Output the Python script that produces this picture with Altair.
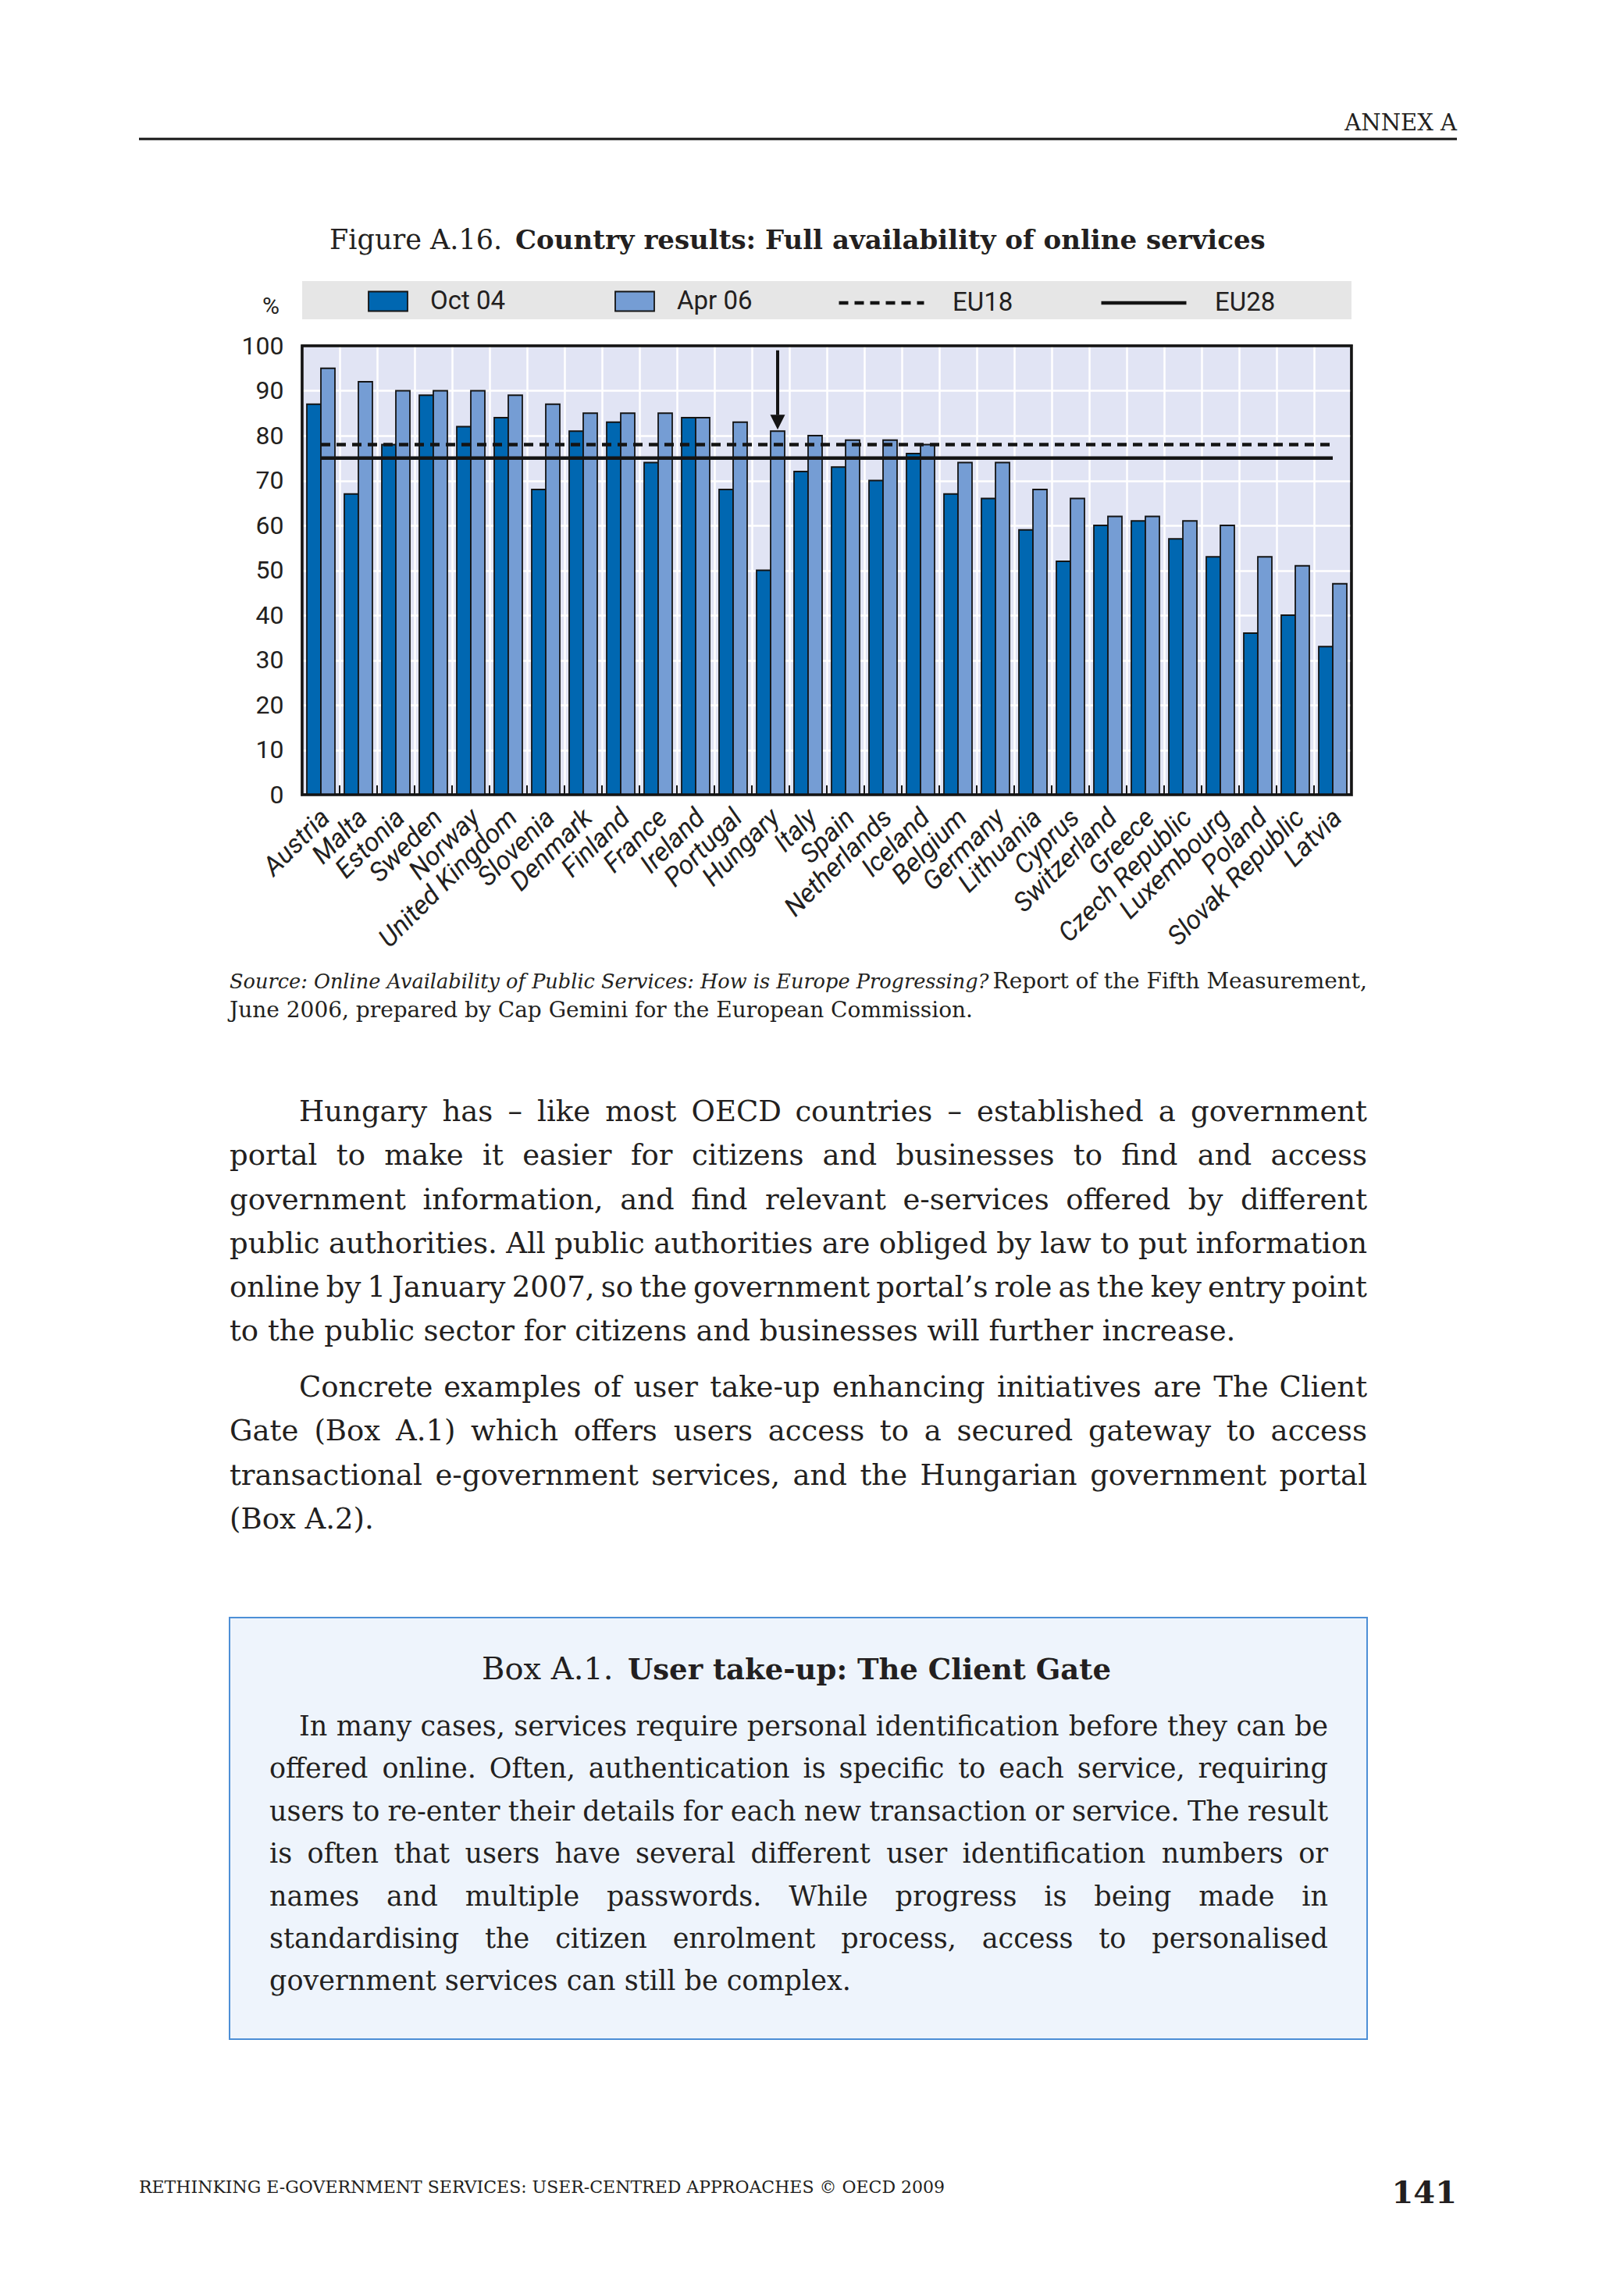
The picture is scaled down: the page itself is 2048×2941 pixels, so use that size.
import altair as alt
import pandas as pd

# ---------------- data ----------------
countries = ["Austria", "Malta", "Estonia", "Sweden", "Norway", "United Kingdom",
             "Slovenia", "Denmark", "Finland", "France", "Ireland", "Portugal",
             "Hungary", "Italy", "Spain", "Netherlands", "Iceland", "Belgium",
             "Germany", "Lithuania", "Cyprus", "Switzerland", "Greece",
             "Czech Republic", "Luxembourg", "Poland", "Slovak Republic", "Latvia"]
oct04 = [87, 67, 78, 89, 82, 84, 68, 81, 83, 74, 84, 68, 50, 72, 73, 70, 76, 67,
         66, 59, 52, 60, 61, 57, 53, 36, 40, 33]
apr06 = [95, 92, 90, 90, 90, 89, 87, 85, 85, 85, 84, 83, 81, 80, 79, 79, 78, 74,
         74, 68, 66, 62, 62, 61, 60, 53, 51, 47]
series = ["Oct 04", "Apr 06"]
eu_labels = ["EU18", "EU28"]
eu_values = [78, 75]
highlight_country = "Hungary"
highlight_series = "Apr 06"
y_ticks = list(range(0, 101, 10))

header_text = "ANNEX A"
title_regular = "Figure A.16."
title_bold = "Country results: Full availability of online services"
unit_label = "%"
source_italic = "Source: Online Availability of Public Services: How is Europe Progressing?"
source_regular = "Report of the Fifth Measurement,"
source_line2 = "June 2006, prepared by Cap Gemini for the European Commission."
para1 = ["Hungary has \u2013 like most OECD countries \u2013 established a government",
         "portal to make it easier for citizens and businesses to find and access",
         "government information, and find relevant e-services offered by different",
         "public authorities. All public authorities are obliged by law to put information",
         "online by 1 January 2007, so the government portal\u2019s role as the key entry point",
         "to the public sector for citizens and businesses will further increase."]
para2 = ["Concrete examples of user take-up enhancing initiatives are The Client",
         "Gate (Box A.1) which offers users access to a secured gateway to access",
         "transactional e-government services, and the Hungarian government portal",
         "(Box A.2)."]
box_title_regular = "Box A.1."
box_title_bold = "User take-up: The Client Gate"
box_lines = ["In many cases, services require personal identification before they can be",
             "offered online. Often, authentication is specific to each service, requiring",
             "users to re-enter their details for each new transaction or service. The result",
             "is often that users have several different user identification numbers or",
             "names and multiple passwords. While progress is being made in",
             "standardising the citizen enrolment process, access to personalised",
             "government services can still be complex."]
footer_text = "RETHINKING E-GOVERNMENT SERVICES: USER-CENTRED APPROACHES \u00a9 OECD 2009"
page_number = "141"

# ---------------- styles / layout ----------------
SANS = "Roboto, Liberation Sans Narrow, sans-serif"
SERIF = "DejaVu Serif, Liberation Serif, serif"
INK = "#231f20"
DARK = "#0067b1"
LIGHT = "#759dd4"
W, H = 1344, 575          # plot area
OX, OY = 387, 443         # plot origin on the page

# approximate advance widths (em) of DejaVu Serif, used only to justify lines
_cw = dict(a=.596, b=.640, c=.560, d=.640, e=.592, f=.370, g=.640, h=.644, i=.320,
           j=.310, k=.606, l=.320, m=.948, n=.644, o=.602, p=.640, q=.640, r=.478,
           s=.513, t=.402, u=.644, v=.565, w=.856, x=.564, y=.565, z=.523,
           A=.722, B=.735, C=.720, D=.802, E=.730, F=.694, G=.807, H=.872, I=.395,
           J=.401, K=.747, L=.664, M=1.024, N=.875, O=.820, P=.673, Q=.820, R=.753,
           S=.685, T=.667, U=.843, V=.722, W=1.028, X=.712, Y=.660, Z=.695)
_cw.update({".": .318, ",": .318, ":": .338, ";": .338, "-": .338, "\u2013": .5,
            "(": .390, ")": .390, "\u2019": .318, "?": .533, " ": .318})
for _d in "0123456789":
    _cw[_d] = .636


def text_width(s, size):
    return sum(_cw.get(c, .6) for c in s) * size


bars = pd.DataFrame({
    "country": countries * 2,
    "series": [series[0]] * len(countries) + [series[1]] * len(countries),
    "value": oct04 + apr06,
})
eu = pd.DataFrame({"line": eu_labels, "value": eu_values,
                   "start": countries[0], "end": countries[-1]})
arrow = pd.DataFrame({"country": [highlight_country], "series": [highlight_series],
                      "top": [99], "base": [84.6], "head": [83.0]})
ticks_df = pd.DataFrame({"country": countries})

xscale = alt.Scale(domain=countries, paddingInner=0, paddingOuter=0)
xoff = alt.XOffset("series:N", sort=series,
                   scale=alt.Scale(domain=series, paddingInner=0, paddingOuter=1 / 3))
yscale = alt.Scale(domain=[0, 100], nice=False)

x_axis = alt.Axis(title=None, labelAngle=-45, labelAlign="right", labelBaseline="middle",
                  labelFont=SANS, labelFontSize=34, labelFontStyle="italic",
                  labelColor=INK, labelPadding=24, labelOffset=6, ticks=False,
                  domain=False, grid=True, tickBand="extent", gridColor="white",
                  gridWidth=2.5, labelLimit=400)
y_axis = alt.Axis(title=None, values=y_ticks, labelFont=SANS, labelFontSize=32,
                  labelColor=INK, labelPadding=24, ticks=False, domain=False,
                  grid=True, gridColor="white", gridWidth=2.5)

bar_layer = alt.Chart(bars).mark_bar(stroke="#141414", strokeWidth=1.8).encode(
    x=alt.X("country:N", sort=countries, scale=xscale, axis=x_axis),
    xOffset=xoff,
    y=alt.Y("value:Q", scale=yscale, axis=y_axis),
    fill=alt.Fill("series:N", sort=series,
                  scale=alt.Scale(domain=series, range=[DARK, LIGHT]),
                  legend=alt.Legend(orient="none", legendX=84, legendY=-83,
                                    direction="horizontal", title=None, padding=0,
                                    symbolType="M-1,-0.5H1V0.5H-1Z", symbolSize=2500,
                                    symbolStrokeColor="#141414", symbolStrokeWidth=1.8,
                                    labelFont=SANS, labelFontSize=33, labelColor=INK,
                                    labelOffset=28, columnPadding=136)),
)

eu_layer = alt.Chart(eu).mark_rule(color="#141414", strokeWidth=4.5).encode(
    x=alt.X("start:N", sort=countries, scale=xscale, axis=x_axis),
    x2="end:N",
    y=alt.Y("value:Q", scale=yscale, axis=y_axis),
    strokeDash=alt.StrokeDash("line:N", sort=eu_labels,
                              scale=alt.Scale(domain=eu_labels, range=[[12, 8], [1, 0]]),
                              legend=alt.Legend(orient="none", legendX=685, legendY=-112,
                                                direction="horizontal", title=None,
                                                padding=0, symbolType="stroke",
                                                symbolSize=11881, symbolStrokeWidth=4.5,
                                                symbolStrokeColor="#141414",
                                                labelFont=SANS, labelFontSize=33,
                                                labelColor=INK, labelOffset=34,
                                                columnPadding=103)),
)

arrow_shaft = alt.Chart(arrow).mark_rule(color="#141414", strokeWidth=4).encode(
    x=alt.X("country:N", sort=countries, scale=xscale, axis=x_axis),
    xOffset=xoff,
    y=alt.Y("top:Q", scale=yscale, axis=y_axis),
    y2="base:Q",
)
arrow_head = alt.Chart(arrow).mark_point(shape="M-1,-1L1,-1L0,1Z", filled=True,
                                         color="#141414", opacity=1, size=361,
                                         strokeWidth=0).encode(
    x=alt.X("country:N", sort=countries, scale=xscale, axis=x_axis),
    xOffset=xoff,
    y=alt.Y("head:Q", scale=yscale, axis=y_axis),
)
tick_layer = alt.Chart(ticks_df).mark_rule(color="#141414", strokeWidth=2).encode(
    x=alt.X("country:N", sort=countries, scale=xscale, axis=x_axis, bandPosition=0),
    y=alt.value(H),
    y2=alt.value(H - 12),
)

one = pd.DataFrame({"k": [0]})


def box(x0, y0, x1, y1, fill, stroke=None, sw=0):
    kw = dict(fill=fill)
    if stroke:
        kw.update(stroke=stroke, strokeWidth=sw)
    return alt.Chart(one).mark_rect(**kw).encode(
        x=alt.value(x0 - OX), x2=alt.value(x1 - OX),
        y=alt.value(y0 - OY), y2=alt.value(y1 - OY))


# black frame of the plot area, drawn above the white grid lines
frame = alt.Chart(one).mark_rect(fill="transparent", stroke="#141414",
                                 strokeWidth=3.5).encode(
    x=alt.value(0), x2=alt.value(W), y=alt.value(0), y2=alt.value(H))


def txt(s, X, Y, size, weight="normal", style="normal", align="left", font=SERIF,
        baseline="alphabetic"):
    d = pd.DataFrame({"t": [s]})
    return alt.Chart(d).mark_text(font=font, fontSize=size, fontWeight=weight,
                                  fontStyle=style, align=align, baseline=baseline,
                                  color=INK).encode(
        x=alt.value(X - OX), y=alt.value(Y - OY), text="t:N")


def paragraph(lines, left, indent_left, right, top, step, size):
    """Justified paragraph: every line but the last is spread to the right edge."""
    rows_l, rows_r = [], []
    for i, line in enumerate(lines):
        L = indent_left if i == 0 else left
        y = top + i * step - OY
        words = line.split(" ")
        if i == len(lines) - 1 or len(words) < 2:
            rows_l.append({"t": line, "px": L - OX, "py": y})
            continue
        ws = [text_width(w, size) for w in words]
        gap = (right - L - sum(ws)) / (len(words) - 1)
        xpos = L
        for j, w in enumerate(words[:-1]):
            rows_l.append({"t": w, "px": xpos - OX, "py": y})
            xpos += ws[j] + gap
        rows_r.append({"t": words[-1], "px": right - OX, "py": y})
    out = []
    for rows, al in ((rows_l, "left"), (rows_r, "right")):
        if rows:
            out.append(alt.Chart(pd.DataFrame(rows)).mark_text(
                font=SERIF, fontSize=size, align=al, baseline="alphabetic",
                color=INK).encode(
                x=alt.X("px:Q", scale=None, axis=None),
                y=alt.Y("py:Q", scale=None, axis=None),
                text="t:N"))
    return out


legend_bg = box(OX, 360, OX + W, 409, "#e6e6e6")

page = [
    txt(header_text, 1866, 167, 29, align="right"),
    alt.Chart(one).mark_rule(color="#141414", strokeWidth=3).encode(
        x=alt.value(178 - OX), x2=alt.value(1866 - OX), y=alt.value(178 - OY)),
    txt(title_regular, 422, 319, 35),
    txt(title_bold, 660, 319, 34, weight="bold"),
    txt(unit_label, 347, 393, 30, font=SANS, align="center", baseline="middle"),
    txt(source_italic, 294, 1266, 25.6, style="italic"),
    txt(source_regular, 1751, 1266, 28, align="right"),
    txt(source_line2, 294, 1303, 28),
    box(294, 2072, 1751, 2612, "#eef4fc", "#4d8fd6", 2),
    txt(box_title_regular, 617, 2151, 40),
    txt(box_title_bold, 804, 2151, 37, weight="bold"),
    txt(footer_text, 178, 2809, 22),
    txt(page_number, 1866, 2822, 40, weight="bold", align="right"),
]
page += paragraph(para1, 294, 383, 1751, 1436, 56.25, 37)
page += paragraph(para2, 294, 383, 1751, 1789, 56.25, 37)
page += paragraph(box_lines, 345, 383, 1701, 2223, 54.4, 35)

chart = alt.layer(legend_bg, bar_layer, eu_layer, arrow_shaft, arrow_head, tick_layer,
                  frame, *page).properties(
    width=W, height=H,
    padding={"left": OX - 8, "top": OY - 8, "right": 2032 - (OX - 8) - W,
             "bottom": 2925 - (OY - 8) - H},
    autosize=alt.AutoSizeParams(type="none"),
).configure(background="white").configure_view(fill="#e1e4f4", stroke="#141414",
                                               strokeWidth=3)

chart.save("out.html", embed_options={"renderer": "svg", "actions": False})
